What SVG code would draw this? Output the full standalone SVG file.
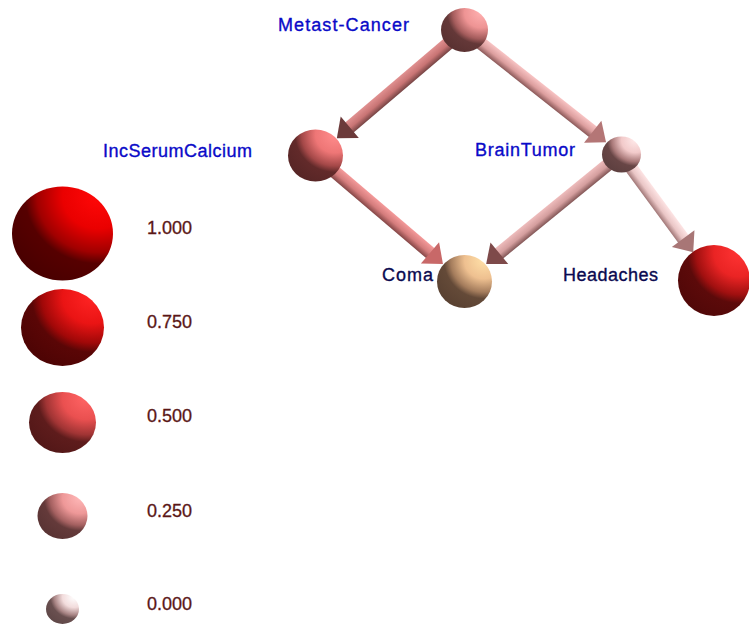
<svg xmlns="http://www.w3.org/2000/svg" width="749" height="626" viewBox="0 0 749 626">
  <style>
    .lbl { font-family: "Liberation Sans", Arial, sans-serif; font-size: 18px; stroke-width: 0.35px; }
    .blue { fill: #0a0ac8; stroke: #0a0ac8; }
    .navy { fill: #0a0a50; stroke: #0a0a50; }
    .leg { font-family: "Liberation Sans", Arial, sans-serif; font-size: 18px; fill: #5a1616; stroke: #5a1616; stroke-width: 0.3px; }
  </style>
  <defs>
    <!-- sphere shading: light from upper right -->
    <radialGradient id="sRed100" cx="0.85" cy="0.1" r="1" fx="0.85" fy="0.1">
      <stop offset="0" stop-color="#ff0808"/><stop offset="0.35" stop-color="#ea0000"/>
      <stop offset="0.6" stop-color="#a00000"/><stop offset="0.72" stop-color="#560000"/>
      <stop offset="1" stop-color="#4a0000"/>
    </radialGradient>
    <radialGradient id="sRed75" cx="0.85" cy="0.1" r="1" fx="0.85" fy="0.1">
      <stop offset="0" stop-color="#ff2424"/><stop offset="0.35" stop-color="#ea1414"/>
      <stop offset="0.6" stop-color="#a00808"/><stop offset="0.72" stop-color="#5a0606"/>
      <stop offset="1" stop-color="#4e0404"/>
    </radialGradient>
    <radialGradient id="sRed50" cx="0.85" cy="0.1" r="1" fx="0.85" fy="0.1">
      <stop offset="0" stop-color="#ff6464"/><stop offset="0.35" stop-color="#ea5050"/>
      <stop offset="0.6" stop-color="#a03434"/><stop offset="0.72" stop-color="#5e1c1c"/>
      <stop offset="1" stop-color="#541818"/>
    </radialGradient>
    <radialGradient id="sRed25" cx="0.85" cy="0.1" r="1" fx="0.85" fy="0.1">
      <stop offset="0" stop-color="#ffb8b8"/><stop offset="0.35" stop-color="#ee9898"/>
      <stop offset="0.6" stop-color="#a46060"/><stop offset="0.72" stop-color="#643a3a"/>
      <stop offset="1" stop-color="#5a3434"/>
    </radialGradient>
    <radialGradient id="sRed0" cx="0.85" cy="0.1" r="1" fx="0.85" fy="0.1">
      <stop offset="0" stop-color="#ffffff"/><stop offset="0.35" stop-color="#f2dcdc"/>
      <stop offset="0.6" stop-color="#a88484"/><stop offset="0.72" stop-color="#6a5050"/>
      <stop offset="1" stop-color="#604848"/>
    </radialGradient>
    <radialGradient id="sMetast" cx="0.85" cy="0.1" r="1" fx="0.85" fy="0.1">
      <stop offset="0" stop-color="#ffb0b0"/><stop offset="0.35" stop-color="#ee9494"/>
      <stop offset="0.6" stop-color="#a45c5c"/><stop offset="0.72" stop-color="#643838"/>
      <stop offset="1" stop-color="#5a3232"/>
    </radialGradient>
    <radialGradient id="sCalcium" cx="0.85" cy="0.1" r="1" fx="0.85" fy="0.1">
      <stop offset="0" stop-color="#ff8c8c"/><stop offset="0.35" stop-color="#ee7676"/>
      <stop offset="0.6" stop-color="#a44848"/><stop offset="0.72" stop-color="#622a2a"/>
      <stop offset="1" stop-color="#582626"/>
    </radialGradient>
    <radialGradient id="sBrain" cx="0.85" cy="0.1" r="1" fx="0.85" fy="0.1">
      <stop offset="0" stop-color="#ffeaea"/><stop offset="0.35" stop-color="#f2caca"/>
      <stop offset="0.6" stop-color="#a87878"/><stop offset="0.72" stop-color="#684646"/>
      <stop offset="1" stop-color="#5e4040"/>
    </radialGradient>
    <radialGradient id="sComa" cx="0.85" cy="0.1" r="1" fx="0.85" fy="0.1">
      <stop offset="0" stop-color="#ffe0a8"/><stop offset="0.35" stop-color="#eec090"/>
      <stop offset="0.6" stop-color="#a47c5c"/><stop offset="0.72" stop-color="#644a38"/>
      <stop offset="1" stop-color="#5a4232"/>
    </radialGradient>
    <radialGradient id="sHead" cx="0.85" cy="0.1" r="1" fx="0.85" fy="0.1">
      <stop offset="0" stop-color="#ff3434"/><stop offset="0.35" stop-color="#ea2424"/>
      <stop offset="0.6" stop-color="#a01010"/><stop offset="0.72" stop-color="#5c0a0a"/>
      <stop offset="1" stop-color="#520808"/>
    </radialGradient>

    <!-- tube shading across the shaft -->
    <linearGradient id="tube1" x1="0" y1="1" x2="0" y2="0">
      <stop offset="0" stop-color="#e09090"/><stop offset="0.55" stop-color="#c87474"/><stop offset="1" stop-color="#764444"/>
    </linearGradient>
    <linearGradient id="tube2" x1="0" y1="0" x2="0" y2="1">
      <stop offset="0" stop-color="#f8c4c4"/><stop offset="0.55" stop-color="#dc9e9e"/><stop offset="1" stop-color="#8a5858"/>
    </linearGradient>
    <linearGradient id="tube3" x1="0" y1="0" x2="0" y2="1">
      <stop offset="0" stop-color="#f49a9a"/><stop offset="0.55" stop-color="#d47c7c"/><stop offset="1" stop-color="#844646"/>
    </linearGradient>
    <linearGradient id="tube4" x1="0" y1="1" x2="0" y2="0">
      <stop offset="0" stop-color="#eebcbc"/><stop offset="0.55" stop-color="#d49e9e"/><stop offset="1" stop-color="#825656"/>
    </linearGradient>
    <linearGradient id="tube5" x1="0" y1="0" x2="0" y2="1">
      <stop offset="0" stop-color="#fde4e4"/><stop offset="0.55" stop-color="#eac6c6"/><stop offset="1" stop-color="#a07676"/>
    </linearGradient>
  </defs>

  <rect width="749" height="626" fill="#ffffff"/>

  <!-- connectors: shaft from source centre, cone tip touching target surface -->
  <g id="connectors">
    <g id="e-metast-calcium" transform="translate(464,30) rotate(139.6)">
      <rect x="0" y="-6.5" width="152" height="13" fill="url(#tube1)"/>
      <polygon points="150,-14 167,0 150,14" fill="#6c3a3a"/>
    </g>
    <g id="e-metast-brain" transform="translate(464,30) rotate(38.3)">
      <rect x="0" y="-6.5" width="166" height="13" fill="url(#tube2)"/>
      <polygon points="164,-14 181,0 164,14" fill="#b47676"/>
    </g>
    <g id="e-calcium-coma" transform="translate(315,155) rotate(40.4)">
      <rect x="0" y="-6.5" width="153" height="13" fill="url(#tube3)"/>
      <polygon points="151,-14 168,0 151,14" fill="#c86868"/>
    </g>
    <g id="e-brain-coma" transform="translate(621,154) rotate(140.8)">
      <rect x="0" y="-6.5" width="159" height="13" fill="url(#tube4)"/>
      <polygon points="157,-14 174,0 157,14" fill="#7e4a4a"/>
    </g>
    <g id="e-brain-headaches" transform="translate(621,154) rotate(53.7)">
      <rect x="0" y="-6.5" width="107" height="13" fill="url(#tube5)"/>
      <polygon points="105,-14 122,0 105,14" fill="#a87676"/>
    </g>
  </g>

  <!-- network nodes -->
  <g id="Metast-Cancer">
    <ellipse cx="464.5" cy="30" rx="23.5" ry="22" fill="url(#sMetast)"/>
    <text class="lbl blue" x="278" y="31" textLength="131" lengthAdjust="spacing">Metast-Cancer</text>
  </g>
  <g id="IncSerumCalcium">
    <ellipse cx="315.5" cy="155.5" rx="27.5" ry="26" fill="url(#sCalcium)"/>
    <text class="lbl blue" x="103" y="157" textLength="149" lengthAdjust="spacing">IncSerumCalcium</text>
  </g>
  <g id="BrainTumor">
    <ellipse cx="621.5" cy="154.5" rx="19.5" ry="18" fill="url(#sBrain)"/>
    <text class="lbl blue" x="475" y="156" textLength="100" lengthAdjust="spacing">BrainTumor</text>
  </g>
  <g id="Coma">
    <ellipse cx="464.5" cy="281.5" rx="27.5" ry="26.5" fill="url(#sComa)"/>
    <text class="lbl navy" x="382" y="281" textLength="51" lengthAdjust="spacing">Coma</text>
  </g>
  <g id="Headaches">
    <ellipse cx="714" cy="280.5" rx="36" ry="35.5" fill="url(#sHead)"/>
    <text class="lbl navy" x="563" y="281" textLength="95" lengthAdjust="spacing">Headaches</text>
  </g>

  <!-- probability scale -->
  <g id="legend">
    <ellipse cx="62.5" cy="233.5" rx="50.5" ry="47" fill="url(#sRed100)"/>
    <text class="leg" x="147" y="234">1.000</text>
    <ellipse cx="62.5" cy="327.5" rx="41.5" ry="38.5" fill="url(#sRed75)"/>
    <text class="leg" x="147" y="328">0.750</text>
    <ellipse cx="62.5" cy="422.5" rx="33.5" ry="30.5" fill="url(#sRed50)"/>
    <text class="leg" x="147" y="422">0.500</text>
    <ellipse cx="62.5" cy="516" rx="25" ry="23" fill="url(#sRed25)"/>
    <text class="leg" x="147" y="517">0.250</text>
    <ellipse cx="62.5" cy="609" rx="16.5" ry="15" fill="url(#sRed0)"/>
    <text class="leg" x="147" y="610">0.000</text>
  </g>
</svg>
